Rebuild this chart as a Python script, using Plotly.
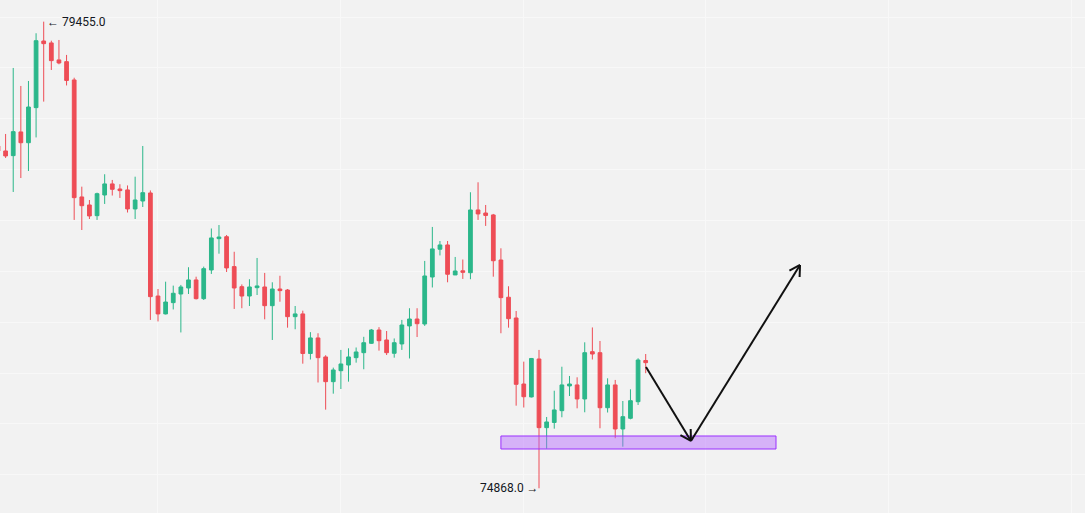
import math
import plotly.graph_objects as go

# ---- data ----
idx = list(range(-1, 85))
opens = [78233, 78184, 78138, 78371, 78265, 78610, 79265, 79246, 79079, 79062,
         78882, 77732, 77653, 77548, 77751, 77860, 77810, 77801, 77614, 77692,
         77771, 76758, 76582, 76693, 76778, 76837, 76916, 76732, 77014, 77322,
         77341, 77047, 76850, 76758, 76840, 76847, 76663, 76827, 76817, 76555,
         76582, 76193, 76346, 76159, 75916, 76024, 76080, 76152, 76201, 76293,
         76424, 76326, 76195, 76287, 76464, 76532, 76483, 76945, 77218, 77260,
         76965, 77006, 76987, 77604, 77574, 77555, 77112, 76746, 76542, 75893,
         75766, 76139, 75464, 75515, 75631, 75874, 75884, 75746, 76211, 76201,
         75660, 75884, 75451, 75556, 75719, 76124]
highs = [78272, 78351, 79000, 78823, 78872, 79341, 79455, 79268, 79275, 79128,
         78904, 77833, 77702, 77774, 77955, 77899, 77857, 77845, 77931, 78233,
         77796, 76827, 76899, 76860, 76867, 77041, 76948, 77047, 77422, 77456,
         77358, 77193, 76872, 76923, 77132, 76985, 76893, 76957, 76827, 76660,
         76614, 76403, 76392, 76176, 76054, 76228, 76244, 76252, 76357, 76434,
         76452, 76414, 76341, 76523, 76638, 76638, 77103, 77437, 77299, 77299,
         77142, 77117, 77778, 77876, 77653, 77565, 77227, 76854, 76611, 76113,
         76149, 76228, 75569, 75827, 76063, 75972, 75959, 76303, 76449, 76316,
         75949, 75933, 75726, 75841, 76146, 76188]
lows = [78145, 78115, 77781, 77918, 77987, 78317, 78669, 78980, 79036, 78828,
        77506, 77407, 77515, 77506, 77663, 77746, 77722, 77579, 77515, 77633,
        76523, 76508, 76577, 76626, 76400, 76778, 76724, 76719, 76975, 77174,
        76994, 76631, 76638, 76660, 76768, 76529, 76326, 76702, 76447, 76431,
        76093, 76134, 75908, 75641, 75798, 75844, 75916, 76103, 76038, 76287,
        76221, 76178, 76152, 76228, 76144, 76355, 76464, 76842, 77157, 76893,
        76965, 76926, 76923, 77506, 77447, 76948, 76392, 76447, 75680, 75662,
        75761, 74868, 75257, 75454, 75566, 75775, 75654, 75615, 76134, 75458,
        75613, 75360, 75277, 75546, 75687, 75999]
closes = [78184, 78135, 78374, 78265, 78616, 79268, 79239, 79072, 79049, 78877,
          77725, 77646, 77545, 77764, 77860, 77807, 77794, 77614, 77702, 77774,
          76752, 76582, 76699, 76785, 76847, 76916, 76732, 77027, 77329, 77338,
          77034, 76837, 76758, 76847, 76857, 76663, 76827, 76811, 76555, 76582,
          76193, 76346, 76152, 75916, 76031, 76090, 76159, 76208, 76299, 76424,
          76319, 76201, 76299, 76473, 76532, 76486, 76955, 77221, 77260, 76972,
          77004, 76991, 77604, 77565, 77550, 77105, 76742, 76535, 75890, 75768,
          76144, 75464, 75520, 75638, 75884, 75893, 75746, 76201, 76188, 75660,
          75884, 75451, 75572, 75729, 76129, 76103]

high_label = "← 79455.0"
low_label = "74868.0 →"
high_idx, high_val = 5, 79455
low_idx, low_val = 70, 74868

# zone and projection path (index, price)
zone = dict(x0=65.0, x1=101.1, y0=75254, y1=75382)
path_pts = [(84.04, 76060), (89.94, 75333), (104.25, 77063)]

# ---- layout constants ----
W, H = 1085, 513
X_RANGE = [-0.735, 141.65]
Y_RANGE = [74625, 79668]
BG = "#f2f2f2"
GREEN = "#2bb78a"
RED = "#ee4d56"

fig = go.Figure()
fig.add_trace(go.Candlestick(
    x=idx, open=opens, high=highs, low=lows, close=closes,
    increasing=dict(line=dict(color=GREEN, width=1), fillcolor=GREEN),
    decreasing=dict(line=dict(color=RED, width=1), fillcolor=RED),
    whiskerwidth=0, showlegend=False, hoverinfo="skip",
))

fig.add_shape(type="rect", xref="x", yref="y", **zone,
              line=dict(color="#9b30ff", width=1),
              fillcolor="rgba(180,100,255,0.45)", layer="above")

sx = W / (X_RANGE[1] - X_RANGE[0])
sy = H / (Y_RANGE[1] - Y_RANGE[0])


def to_px(k, p):
    return (k - X_RANGE[0]) * sx, (Y_RANGE[1] - p) * sy


def to_data(X, Y):
    return X / sx + X_RANGE[0], Y_RANGE[1] - Y / sy


def line(a, b):
    fig.add_shape(type="line", xref="x", yref="y", x0=a[0], y0=a[1], x1=b[0], y1=b[1],
                  line=dict(color="#111111", width=2), layer="above")


for a, b in zip(path_pts[:-1], path_pts[1:]):
    line(a, b)
    ax, ay = to_px(*a)
    bx, by = to_px(*b)
    L = math.hypot(bx - ax, by - ay)
    ux, uy = (ax - bx) / L, (ay - by) / L
    for ang in (math.radians(30), -math.radians(30)):
        hx = bx + 12 * (ux * math.cos(ang) - uy * math.sin(ang))
        hy = by + 12 * (ux * math.sin(ang) + uy * math.cos(ang))
        line(b, to_data(hx, hy))

fig.add_annotation(x=high_idx, y=high_val, text=high_label, showarrow=False,
                   xanchor="left", yanchor="middle", xshift=1,
                   font=dict(family="Roboto", size=12, color="#131722"))
fig.add_annotation(x=low_idx, y=low_val, text=low_label, showarrow=False,
                   xanchor="right", yanchor="middle", xshift=2,
                   font=dict(family="Roboto", size=12, color="#131722"))

fig.update_layout(
    width=W, height=H, margin=dict(l=0, r=0, t=0, b=0),
    paper_bgcolor=BG, plot_bgcolor=BG, showlegend=False,
    xaxis=dict(range=X_RANGE, showgrid=True, gridcolor="#f8f8f8", gridwidth=1,
               tick0=19.9, dtick=24, showticklabels=False, zeroline=False,
               showline=False, rangeslider=dict(visible=False), fixedrange=True),
    yaxis=dict(range=Y_RANGE, showgrid=True, gridcolor="#f8f8f8", gridwidth=1,
               tick0=75000, dtick=500, showticklabels=False, zeroline=False,
               showline=False, fixedrange=True),
)

fig.write_html("out.html", config=dict(displayModeBar=False),
               post_script="document.body.style.margin='0';document.body.style.overflow='hidden';")
